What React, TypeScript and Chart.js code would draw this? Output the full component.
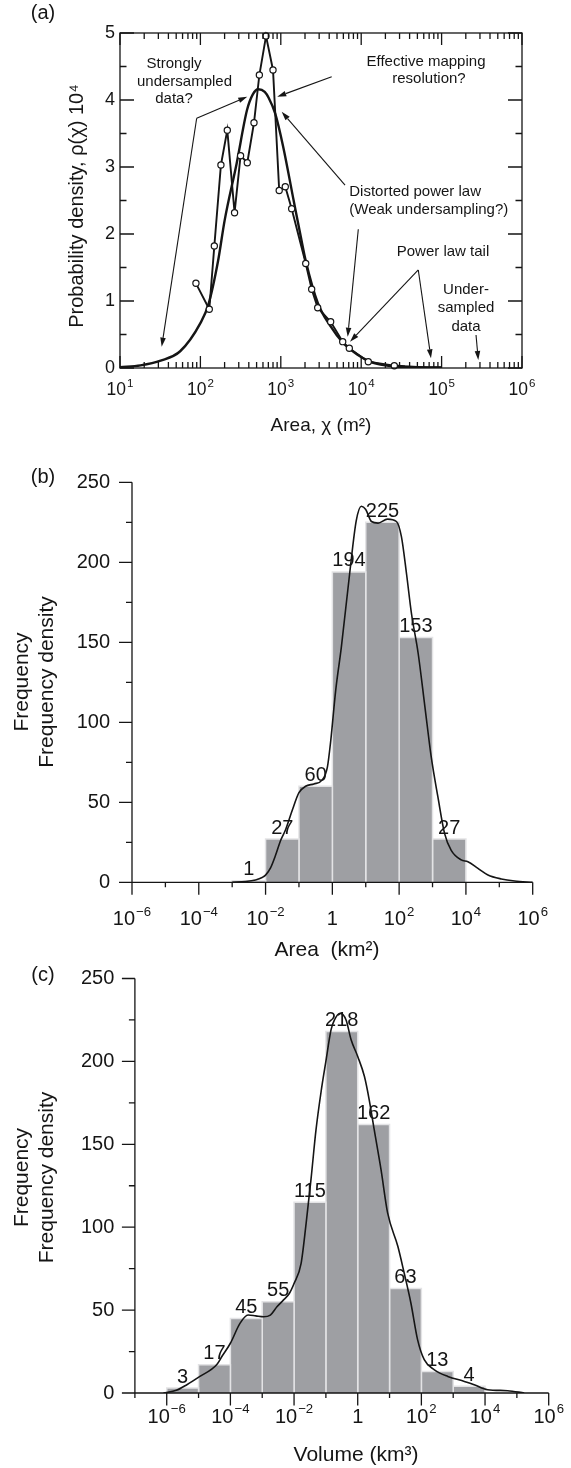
import React, { useEffect, useRef } from "react";
import { Chart, registerables } from "chart.js";

Chart.register(...registerables);

const FONT = "'Liberation Sans', Arial, Helvetica, sans-serif";
Chart.defaults.font.family = FONT;
const INK = "#151515";
const BAR_FILL = "#9e9fa3";
const BAR_EDGE = "#e3e3e5";

/* ---------------- Panel (a): probability density of area ---------------- */
const aAreas = [88, 129, 149, 180, 216, 266, 316, 383, 464, 541, 655, 800, 955, 1137, 1365, 2042, 2421, 2876, 4170, 5888, 7113, 12250, 25800];
const aDensity = [1.264, 0.876, 1.82, 3.03, 3.55, 2.318, 3.169, 3.064, 3.66, 4.373, 4.955, 4.448, 2.65, 2.706, 2.378, 1.56, 1.175, 0.9, 0.691, 0.393, 0.294, 0.094, 0.034];
const aTailAreas = [25800, 35000, 50000, 70000, 100000];
const aTailDensity = [0.034, 0.02, 0.012, 0.008, 0.005];
const aFitAreas = [10, 18, 32, 56, 100, 126, 166, 200, 282, 380, 447, 525, 631, 708, 851, 1072, 1445, 1778, 2042, 2884, 4169, 5888, 8913, 12589, 19953, 39811, 100000];
const aFitDensity = [0.01, 0.04, 0.11, 0.25, 0.67, 0.95, 1.6, 2.2, 3.05, 3.85, 4.08, 4.16, 4.12, 4.03, 3.8, 3.3, 2.5, 1.95, 1.6, 0.97, 0.62, 0.38, 0.2, 0.1, 0.04, 0.012, 0.003];
const aXTicks = [10, 100, 1000, 10000, 100000, 1000000];
const aXLabels = ["10^1", "10^2", "10^3", "10^4", "10^5", "10^6"];
const aYTicks = [0, 1, 2, 3, 4, 5];

const aNotes = [
  { text: "Strongly", x: 47.0, y: 4.54, align: "center" },
  { text: "undersampled", x: 63.4, y: 4.275, align: "center" },
  { text: "data?", x: 47.0, y: 4.015, align: "center" },
  { text: "Effective mapping", x: 63970, y: 4.575, align: "center" },
  { text: "resolution?", x: 69660, y: 4.316, align: "center" },
  { text: "Distorted power law", x: 7110, y: 2.625, align: "left" },
  { text: "(Weak undersampling?)", x: 7110, y: 2.357, align: "left" },
  { text: "Power law tail", x: 104000, y: 1.739, align: "center" },
  { text: "Under-", x: 201000, y: 1.167, align: "center" },
  { text: "sampled", x: 201000, y: 0.894, align: "center" },
  { text: "data", x: 201000, y: 0.619, align: "center" },
];
const aArrows = [
  { from: [89.9, 3.727], to: [382.7, 4.049] },
  { from: [89.9, 3.727], to: [33.0, 0.318] },
  { from: [4295, 4.348], to: [903, 4.049] },
  { from: [6295, 2.731], to: [1026, 3.825] },
  { from: [9204, 2.07], to: [6793, 0.467] },
  { from: [51290, 1.463], to: [7261, 0.393] },
  { from: [51290, 1.463], to: [73790, 0.145] },
  { from: [268000, 0.493], to: [285800, 0.119] },
];

/* ---------------- Panel (b): area histogram ---------------- */
const bEdges = [1e-3, 1e-2, 1e-1, 1, 10, 100, 1000, 1e4];
const bCounts = [1, 27, 60, 194, 225, 153, 27];
const bKdeAreas = [1e-3, 2.5e-3, 5e-3, 7.9e-3, 1e-2, 1.41e-2, 2e-2, 2.8e-2, 4e-2, 6.3e-2, 0.1, 0.158, 0.28, 0.5, 0.71, 0.89, 1.26, 1.86, 3.3, 5.2, 7.4, 10, 14.8, 23.4, 44.7, 83, 117, 166, 234, 372, 589, 912, 1445, 2291, 3631, 7244, 11480, 22910, 45710, 114800, 288400, 1e6];
const bKdeDensity = [0, 0.5, 1.5, 3, 4.5, 9, 17, 26, 33, 45, 56, 60, 61.5, 64, 72, 88, 120, 147, 193, 226, 235, 233, 225.5, 224.5, 227, 225.5, 216, 193, 168, 143, 110, 78.5, 53.5, 30.6, 20, 14, 12.9, 8.7, 4.6, 2.1, 0.8, 0];
const bXTicks = [1e-6, 1e-4, 1e-2, 1, 1e2, 1e4, 1e6];
const bXLabels = ["10^−6", "10^−4", "10^−2", "1", "10^2", "10^4", "10^6"];
const bYTicks = [0, 50, 100, 150, 200, 250];

/* ---------------- Panel (c): volume histogram ---------------- */
const cEdges = [1e-6, 1e-5, 1e-4, 1e-3, 1e-2, 1e-1, 1, 10, 100, 1000, 1e4];
const cCounts = [3, 17, 45, 55, 115, 218, 162, 63, 13, 4];
const cKdeVolumes = [7.9e-7, 2e-6, 4.3e-6, 1.1e-5, 3.7e-5, 5.4e-5, 1e-4, 2e-4, 3.6e-4, 6.3e-4, 1.1e-3, 1.8e-3, 2.9e-3, 4.6e-3, 7.1e-3, 1e-2, 1.66e-2, 2.4e-2, 3.4e-2, 4.9e-2, 7.1e-2, 0.1, 0.145, 0.186, 0.28, 0.43, 0.62, 1, 1.62, 2.29, 3.3, 5.4, 8.7, 18.2, 28.8, 46.8, 75.9, 123, 257, 676, 2239, 4571, 12020, 51290, 169800];
const cKdeDensity = [0, 1.6, 5, 10, 17, 22, 30, 42, 47, 46.5, 46, 47, 52, 56, 60, 66, 78, 102.5, 128.7, 158.8, 182, 200, 219, 225, 229, 225, 213, 203, 191, 177, 158.8, 134.7, 108.6, 88.5, 72.4, 54.3, 32.2, 20.1, 14, 10, 7, 5, 2, 1.4, 0];
const cXTicks = [1e-6, 1e-4, 1e-2, 1, 1e2, 1e4, 1e6];
const cXLabels = ["10^−6", "10^−4", "10^−2", "1", "10^2", "10^4", "10^6"];
const cYTicks = [0, 50, 100, 150, 200, 250];

/* ---------------- helpers ---------------- */
const pts = (xs: number[], ys: number[]) => xs.map((x, i) => ({ x, y: ys[i] }));

const fitX = (h: number) => (s: any) => {
  s.height = h;
  s.paddingLeft = 0;
  s.paddingRight = 0;
};
const fitY = (w: number) => (s: any) => {
  s.width = w;
  s.paddingTop = 0;
  s.paddingBottom = 0;
};

function seg(ctx: CanvasRenderingContext2D, x1: number, y1: number, x2: number, y2: number) {
  ctx.moveTo(x1, y1);
  ctx.lineTo(x2, y2);
}

function rotatedText(ctx: CanvasRenderingContext2D, text: string, x: number, y: number) {
  ctx.save();
  ctx.translate(x, y);
  ctx.rotate(-Math.PI / 2);
  ctx.textAlign = "center";
  ctx.textBaseline = "middle";
  ctx.fillText(text, 0, 0);
  ctx.restore();
}

// power-of-ten tick label: "10" with a raised, smaller exponent
function powLabel(ctx: CanvasRenderingContext2D, label: string, cx: number, cy: number, size: number) {
  const [base, exp] = label.split("^");
  const sup = size * 0.66;
  ctx.textBaseline = "middle";
  ctx.textAlign = "left";
  ctx.font = `${size}px ${FONT}`;
  const wb = ctx.measureText(base).width;
  let we = 0;
  if (exp) {
    ctx.font = `${sup}px ${FONT}`;
    we = ctx.measureText(exp).width + 1;
  }
  const x0 = cx - (wb + we) / 2;
  ctx.font = `${size}px ${FONT}`;
  ctx.fillText(base, x0, cy);
  if (exp) {
    ctx.font = `${sup}px ${FONT}`;
    ctx.fillText(exp, x0 + wb + 1, cy - size * 0.37);
  }
}

const baseOptions = (box: any) => ({
  responsive: false,
  maintainAspectRatio: false,
  animation: false,
  devicePixelRatio: 1,
  events: [],
  layout: {
    autoPadding: false,
    padding: { left: 0, top: box.plotTop, right: 571 - box.right, bottom: 0 },
  },
  plugins: { legend: { display: false }, tooltip: { enabled: false } },
});

/* ---------------- Panel (a) config ---------------- */
const boxA = { top: 0, height: 468, left: 120, right: 522, plotTop: 33, plotBottom: 368 };

function configA(): any {
  const decor = {
    id: "decorA",
    afterDatasetsDraw(chart: any) {
      const ctx: CanvasRenderingContext2D = chart.ctx;
      const { left, right, top, bottom } = chart.chartArea;
      const x = chart.scales.x;
      const y = chart.scales.y;
      ctx.save();
      ctx.strokeStyle = INK;
      ctx.lineWidth = 1.3;
      ctx.strokeRect(left, top, right - left, bottom - top);
      ctx.beginPath();
      for (let e = 1; e <= 6; e++) {
        const px = x.getPixelForValue(Math.pow(10, e));
        seg(ctx, px, bottom, px, bottom - 12);
        seg(ctx, px, top, px, top + 12);
        if (e < 6) {
          for (let m = 2; m <= 9; m++) {
            const p = x.getPixelForValue(m * Math.pow(10, e));
            seg(ctx, p, bottom, p, bottom - 6);
            seg(ctx, p, top, p, top + 6);
          }
        }
      }
      for (let k = 0; k <= 10; k++) {
        const py = y.getPixelForValue(k / 2);
        const len = k % 2 === 0 ? 14 : 6.5;
        seg(ctx, left, py, left + len, py);
        seg(ctx, right, py, right - len, py);
      }
      ctx.stroke();

      // annotation arrows
      ctx.lineWidth = 1.1;
      ctx.fillStyle = INK;
      for (const a of aArrows) {
        const x1 = x.getPixelForValue(a.from[0]);
        const y1 = y.getPixelForValue(a.from[1]);
        const x2 = x.getPixelForValue(a.to[0]);
        const y2 = y.getPixelForValue(a.to[1]);
        const ang = Math.atan2(y2 - y1, x2 - x1);
        const L = 9;
        const hw = 2.8;
        const bx = x2 - L * Math.cos(ang);
        const by = y2 - L * Math.sin(ang);
        ctx.beginPath();
        ctx.moveTo(x1, y1);
        ctx.lineTo(bx, by);
        ctx.stroke();
        ctx.beginPath();
        ctx.moveTo(x2, y2);
        ctx.lineTo(bx + hw * Math.sin(ang), by - hw * Math.cos(ang));
        ctx.lineTo(bx - hw * Math.sin(ang), by + hw * Math.cos(ang));
        ctx.closePath();
        ctx.fill();
      }
      // annotation texts
      ctx.font = `15px ${FONT}`;
      ctx.textBaseline = "middle";
      for (const n of aNotes) {
        ctx.textAlign = n.align as CanvasTextAlign;
        ctx.fillText(n.text, x.getPixelForValue(n.x), y.getPixelForValue(n.y));
      }
      // x tick labels
      aXTicks.forEach((v, i) => powLabel(ctx, aXLabels[i], x.getPixelForValue(v), bottom + 22, 17.5));
      // axis titles and panel letter
      ctx.font = `19px ${FONT}`;
      ctx.textAlign = "center";
      ctx.textBaseline = "middle";
      ctx.fillText("Area, χ (m²)", 321, 425.5);
      ctx.font = `20px ${FONT}`;
      rotatedText(ctx, "Probability density, ρ(χ) 10⁴", 77, 206);
      ctx.font = `20px ${FONT}`;
      ctx.textAlign = "center";
      ctx.fillText("(a)", 43, 13);
      ctx.restore();
    },
  };
  return {
    type: "line",
    data: {
      datasets: [
        {
          data: pts(aAreas, aDensity),
          borderColor: INK,
          borderWidth: 1.9,
          pointRadius: 3.1,
          pointBackgroundColor: "#ffffff",
          pointBorderColor: INK,
          pointBorderWidth: 1.2,
          tension: 0,
          clip: false,
          order: 0,
        },
        { data: pts(aTailAreas, aTailDensity), borderColor: INK, borderWidth: 2.6, pointRadius: 0, tension: 0, order: 1 },
        {
          data: pts(aFitAreas, aFitDensity),
          borderColor: INK,
          borderWidth: 2.4,
          pointRadius: 0,
          cubicInterpolationMode: "monotone",
          order: 2,
        },
      ],
    },
    options: {
      ...baseOptions(boxA),
      scales: {
        x: {
          type: "logarithmic",
          min: 10,
          max: 1e6,
          grid: { display: false, drawTicks: false },
          border: { display: false },
          afterBuildTicks: (s: any) => {
            s.ticks = aXTicks.map((v) => ({ value: v }));
          },
          afterFit: fitX(boxA.height - boxA.plotBottom),
          ticks: { display: false },
        },
        y: {
          type: "linear",
          min: 0,
          max: 5,
          grid: { display: false, drawTicks: false },
          border: { display: false },
          afterBuildTicks: (s: any) => {
            s.ticks = aYTicks.map((v) => ({ value: v }));
          },
          afterFit: fitY(boxA.left),
          ticks: { padding: 5, color: INK, font: { family: FONT, size: 18 }, callback: (v: any) => String(v) },
        },
      },
    },
    plugins: [decor],
  };
}

/* ---------------- Panels (b), (c) config ---------------- */
const boxB = { top: 466, height: 500, left: 132, right: 532.7, plotTop: 16.3, plotBottom: 416.3 };
const boxC = { top: 963, height: 505, left: 134.9, right: 548.7, plotTop: 15.5, plotBottom: 430 };

function histConfig(p: any): any {
  const { box, edges, counts, kdeX, kdeY, xMin, xTicks, xLabels, yTicks, xLabelY, yPad, xTitle, xTitleAt, yTitleX, yTitleY, letterY } = p;
  const decor = {
    id: "decorHist",
    afterDatasetsDraw(chart: any) {
      const ctx: CanvasRenderingContext2D = chart.ctx;
      const { left, right, bottom } = chart.chartArea;
      const x = chart.scales.x;
      const y = chart.scales.y;
      ctx.save();
      ctx.fillStyle = INK;
      ctx.font = `20px ${FONT}`;
      ctx.textAlign = "center";
      ctx.textBaseline = "alphabetic";
      counts.forEach((c: number, i: number) => {
        const cx = x.getPixelForValue(Math.sqrt(edges[i] * edges[i + 1]));
        const ty = y.getPixelForValue(c) - 5.5;
        ctx.fillText(String(c), cx, ty);
      });
      ctx.strokeStyle = INK;
      ctx.lineWidth = 1.3;
      ctx.beginPath();
      const yTop = y.getPixelForValue(y.max);
      seg(ctx, left, yTop, left, bottom);
      seg(ctx, left, bottom, right, bottom);
      for (let v = y.min; v <= y.max; v += 25) {
        const py = y.getPixelForValue(v);
        const len = v % 50 === 0 ? 13 : 6;
        seg(ctx, left - len, py, left, py);
      }
      for (let e = Math.round(Math.log10(x.min)); e <= 6; e++) {
        const px = x.getPixelForValue(Math.pow(10, e));
        const len = e % 2 === 0 ? 12.5 : 5;
        seg(ctx, px, bottom, px, bottom + len);
      }
      ctx.stroke();
      xTicks.forEach((v: number, i: number) => powLabel(ctx, xLabels[i], x.getPixelForValue(v), xLabelY, 20));
      ctx.font = `21px ${FONT}`;
      ctx.textBaseline = "middle";
      ctx.textAlign = "center";
      ctx.fillText(xTitle, xTitleAt[0], xTitleAt[1]);
      rotatedText(ctx, "Frequency", yTitleX[0], yTitleY);
      rotatedText(ctx, "Frequency density", yTitleX[1], yTitleY);
      ctx.font = `20px ${FONT}`;
      ctx.textAlign = "center";
      ctx.textBaseline = "middle";
      ctx.fillText(p.letter, 43, letterY);
      ctx.restore();
    },
  };
  const bars = counts.map((c: number, i: number) => ({
    data: [
      { x: edges[i], y: 0 },
      { x: edges[i], y: c },
      { x: edges[i + 1], y: c },
      { x: edges[i + 1], y: 0 },
    ],
    borderColor: BAR_EDGE,
    borderWidth: 1.5,
    backgroundColor: BAR_FILL,
    fill: "origin",
    pointRadius: 0,
    tension: 0,
    order: 1,
  }));
  return {
    type: "line",
    data: {
      datasets: [
        {
          data: pts(kdeX, kdeY),
          borderColor: INK,
          borderWidth: 1.6,
          pointRadius: 0,
          fill: false,
          cubicInterpolationMode: "monotone",
          order: 0,
        },
        ...bars,
      ],
    },
    options: {
      ...baseOptions(box),
      scales: {
        x: {
          type: "logarithmic",
          min: xMin,
          max: 1e6,
          grid: { display: false, drawTicks: false },
          border: { display: false },
          afterBuildTicks: (s: any) => {
            s.ticks = xTicks.map((v: number) => ({ value: v }));
          },
          afterFit: fitX(box.height - box.plotBottom),
          ticks: { display: false },
        },
        y: {
          type: "linear",
          min: 0,
          max: 250,
          grid: { display: false, drawTicks: false },
          border: { display: false },
          afterBuildTicks: (s: any) => {
            s.ticks = yTicks.map((v: number) => ({ value: v }));
          },
          afterFit: fitY(box.left),
          ticks: { padding: yPad, color: INK, font: { family: FONT, size: 20 }, callback: (v: any) => String(v) },
        },
      },
    },
    plugins: [decor],
  };
}

const configB = () =>
  histConfig({
    box: boxB,
    edges: bEdges,
    counts: bCounts,
    kdeX: bKdeAreas,
    kdeY: bKdeDensity,
    xMin: 1e-6,
    xTicks: bXTicks,
    xLabels: bXLabels,
    yTicks: bYTicks,
    xLabelY: 453.5,
    yPad: 22,
    xTitle: "Area  (km²)",
    xTitleAt: [327, 484],
    yTitleX: [22.2, 47.7],
    yTitleY: 216,
    letter: "(b)",
    letterY: 11,
  });

const configC = () =>
  histConfig({
    box: boxC,
    edges: cEdges,
    counts: cCounts,
    kdeX: cKdeVolumes,
    kdeY: cKdeDensity,
    xMin: 1e-7,
    xTicks: cXTicks,
    xLabels: cXLabels,
    yTicks: cYTicks,
    xLabelY: 454.2,
    yPad: 20.6,
    xTitle: "Volume (km³)",
    xTitleAt: [356, 492.7],
    yTitleX: [22.2, 47.7],
    yTitleY: 214.5,
    letter: "(c)",
    letterY: 12.8,
  });

function ChartPanel({ box, make }: { box: any; make: () => any }) {
  const ref = useRef<HTMLCanvasElement | null>(null);
  useEffect(() => {
    if (!ref.current) return;
    const chart = new Chart(ref.current, make());
    return () => chart.destroy();
  }, []);
  return (
    <div style={{ position: "absolute", left: 0, top: box.top, width: 571, height: box.height }}>
      <canvas ref={ref} width={571} height={box.height} style={{ width: 571, height: box.height, display: "block" }} />
    </div>
  );
}

export default function App() {
  return (
    <div style={{ position: "absolute", left: 0, top: 0, width: 571, height: 1468, background: "#ffffff", overflow: "hidden" }}>
      <ChartPanel box={boxA} make={configA} />
      <ChartPanel box={boxB} make={configB} />
      <ChartPanel box={boxC} make={configC} />
    </div>
  );
}
